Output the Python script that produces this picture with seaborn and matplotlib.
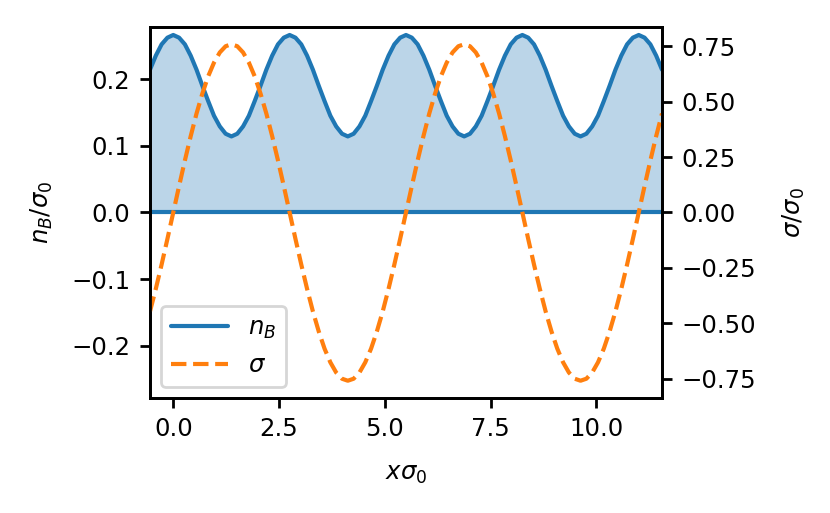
import numpy as np
import matplotlib
matplotlib.use("Agg")
import matplotlib.pyplot as plt
import seaborn as sns

# sample grid (x*sigma_0)
x = np.linspace(-0.55, 11.55, 89)

# n_B / sigma_0
n_B = [0.214, 0.235, 0.252, 0.262,
       0.266, 0.262, 0.252, 0.235, 0.214, 0.190, 0.167, 0.145, 0.129, 0.118,
       0.114, 0.118, 0.129, 0.145, 0.167, 0.190, 0.214, 0.235, 0.252, 0.262,
       0.266, 0.262, 0.252, 0.235, 0.214, 0.190, 0.167, 0.145, 0.129, 0.118,
       0.114, 0.118, 0.129, 0.145, 0.167, 0.190, 0.214, 0.235, 0.252, 0.262,
       0.266, 0.262, 0.252, 0.235, 0.214, 0.190, 0.167, 0.145, 0.129, 0.118,
       0.114, 0.118, 0.129, 0.145, 0.167, 0.190, 0.214, 0.235, 0.252, 0.262,
       0.266, 0.262, 0.252, 0.235, 0.214, 0.190, 0.167, 0.145, 0.129, 0.118,
       0.114, 0.118, 0.129, 0.145, 0.167, 0.190, 0.214, 0.235, 0.252, 0.262,
       0.266, 0.262, 0.252, 0.235, 0.214]

# sigma / sigma_0
sigma = [-0.447, -0.345, -0.235, -0.119,
         0.000, 0.119, 0.235, 0.345, 0.447, 0.537, 0.615, 0.677, 0.723, 0.751,
         0.760, 0.751, 0.723, 0.677, 0.615, 0.537, 0.447, 0.345, 0.235, 0.119,
         0.000, -0.119, -0.235, -0.345, -0.447, -0.537, -0.615, -0.677, -0.723, -0.751,
         -0.760, -0.751, -0.723, -0.677, -0.615, -0.537, -0.447, -0.345, -0.235, -0.119,
         0.000, 0.119, 0.235, 0.345, 0.447, 0.537, 0.615, 0.677, 0.723, 0.751,
         0.760, 0.751, 0.723, 0.677, 0.615, 0.537, 0.447, 0.345, 0.235, 0.119,
         0.000, -0.119, -0.235, -0.345, -0.447, -0.537, -0.615, -0.677, -0.723, -0.751,
         -0.760, -0.751, -0.723, -0.677, -0.615, -0.537, -0.447, -0.345, -0.235, -0.119,
         0.000, 0.119, 0.235, 0.345, 0.447]

sns.set_style("ticks")
plt.rcParams.update({
    "font.family": ["DejaVu Sans"],
    "font.size": 8.8,
    "axes.linewidth": 1.0,
    "xtick.major.size": 3.5,
    "ytick.major.size": 3.5,
    "xtick.major.width": 1.0,
    "ytick.major.width": 1.0,
    "xtick.color": "black",
    "ytick.color": "black",
    "axes.edgecolor": "black",
    "axes.labelcolor": "black",
    "text.color": "black",
    "legend.frameon": True,
    "legend.framealpha": 0.8,
    "legend.edgecolor": "0.8",
    "legend.fancybox": True,
})

blue = "#1f77b4"
orange = "#ff7f0e"

fig = plt.figure(figsize=(4.15, 2.565), dpi=200)
ax = fig.add_axes([0.1807, 0.2242, 0.6169, 0.7232])
ax2 = ax.twinx()

ax.fill_between(x, 0, n_B, color=blue, alpha=0.3, linewidth=0)
sns.lineplot(x=x, y=n_B, ax=ax, color=blue, linewidth=1.5, label=r"$n_B$", legend=False)
ax.axhline(0, color=blue, linewidth=1.5)
sns.lineplot(x=x, y=sigma, ax=ax2, color=orange, linewidth=1.5, linestyle="--",
             label=r"$\sigma$", legend=False)

ax.set_xlim(x[0], x[-1])
ax.set_ylim(-0.278, 0.278)
ax2.set_ylim(-0.838, 0.838)
ax.set_xticks([0.0, 2.5, 5.0, 7.5, 10.0])
ax.set_yticks([-0.2, -0.1, 0.0, 0.1, 0.2])
ax2.set_yticks([-0.75, -0.5, -0.25, 0.0, 0.25, 0.5, 0.75])
ax.set_xticklabels(["0.0", "2.5", "5.0", "7.5", "10.0"])
ax.set_yticklabels(["\u22120.2", "\u22120.1", "0.0", "0.1", "0.2"])
ax2.set_yticklabels(["\u22120.75", "\u22120.50", "\u22120.25", "0.00", "0.25", "0.50", "0.75"])

ax.set_xlabel(r"$x\sigma_0$", labelpad=7.5)
ax.set_ylabel(r"$n_B/\sigma_0$", labelpad=6)
ax2.set_ylabel(r"$\sigma/\sigma_0$", labelpad=9)

for a in (ax, ax2):
    for s in a.spines.values():
        s.set_visible(True)
        s.set_color("black")

h1, l1 = ax.get_legend_handles_labels()
h2, l2 = ax2.get_legend_handles_labels()
ax2.legend(h1 + h2, l1 + l2, loc="lower left", handlelength=2.35,
           borderaxespad=0.45)

fig.savefig("out.png", dpi=200)
